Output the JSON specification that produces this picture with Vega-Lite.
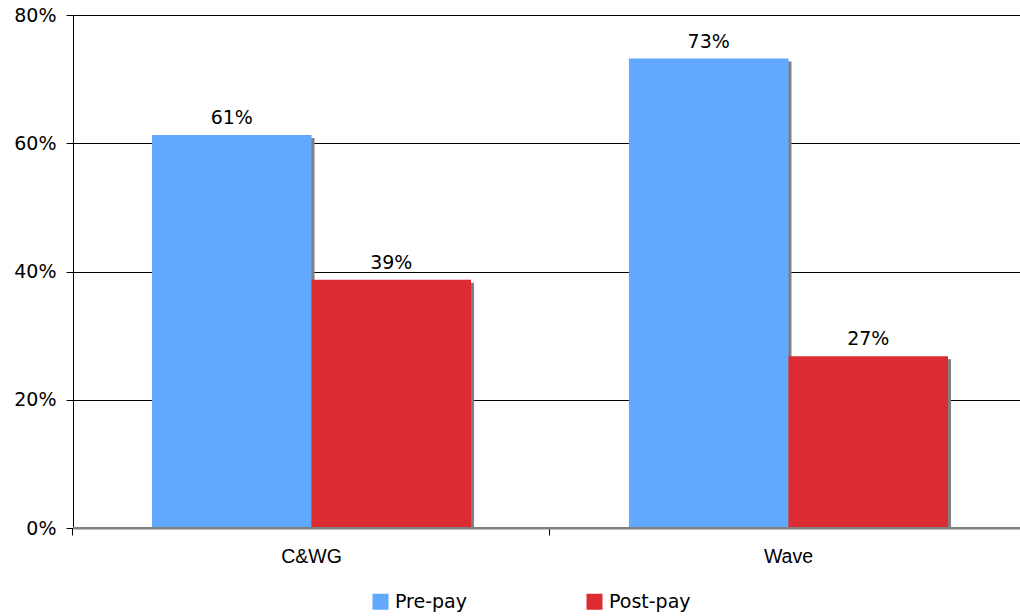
{
  "$schema": "https://vega.github.io/schema/vega-lite/v6.json",
  "width": 954,
  "height": 513,
  "autosize": {"type": "none"},
  "padding": {"left": 73, "top": 15, "right": 0, "bottom": 88},
  "background": "white",
  "config": {
    "view": {"stroke": null},
    "font": "DejaVu Sans",
    "axis": {"labelFont": "DejaVu Sans", "labelFontSize": 19, "labelColor": "#000000"},
    "legend": {"labelFont": "DejaVu Sans", "labelFontSize": 19, "labelColor": "#000000"}
  },
  "data": {
    "values": [
      {"group": "C&WG", "series": "Pre-pay", "value": 0.613},
      {"group": "C&WG", "series": "Post-pay", "value": 0.387},
      {"group": "Wave", "series": "Pre-pay", "value": 0.732},
      {"group": "Wave", "series": "Post-pay", "value": 0.268}
    ]
  },
  "encoding": {
    "y": {
      "field": "value",
      "type": "quantitative",
      "scale": {"domain": [0, 0.8], "nice": false},
      "axis": {
        "title": null,
        "format": ".0%",
        "values": [0, 0.2, 0.4, 0.6, 0.8],
        "grid": true,
        "gridColor": "#000000",
        "gridOpacity": 1,
        "gridWidth": 1,
        "domainColor": "#000000",
        "domainWidth": 1,
        "tickColor": "#000000",
        "tickSize": 7,
        "labelPadding": 10
      }
    }
  },
  "layer": [
    {
      "mark": {"type": "bar", "color": "#808080", "yOffset": 3, "y2Offset": 0},
      "encoding": {
        "y2": {"datum": 0},
        "x": {
          "field": "group",
          "type": "nominal",
          "sort": ["C&WG", "Wave"],
          "scale": {"paddingInner": 0.331, "paddingOuter": 0.1656},
          "axis": {
            "orient": "bottom",
            "title": null,
            "labels": false,
            "domain": false,
            "grid": false,
            "ticks": true,
            "tickSize": 7,
            "tickColor": "#000000",
            "tickWidth": 1,
            "bandPosition": -0.248
          }
        },
        "xOffset": {
          "field": "series",
          "type": "nominal",
          "sort": ["Pre-pay", "Post-pay"],
          "scale": {"paddingInner": 0, "paddingOuter": 0, "range": [3, 322.1]}
        }
      }
    },
    {
      "layer": [
        {
          "mark": {"type": "bar"},
          "encoding": {
            "color": {
              "field": "series",
              "type": "nominal",
              "sort": ["Pre-pay", "Post-pay"],
              "scale": {"domain": ["Pre-pay", "Post-pay"], "range": ["#61A8FF", "#DC2B32"]},
              "legend": {
                "title": null,
                "orient": "none",
                "direction": "horizontal",
                "legendX": 298,
                "legendY": 577,
                "symbolType": "square",
                "symbolSize": 256,
                "symbolStrokeWidth": 0,
                "symbolOpacity": 1,
                "labelOffset": 5,
                "columnPadding": 117
              }
            }
          }
        },
        {
          "mark": {"type": "text", "baseline": "bottom", "dy": -7, "fontSize": 19, "color": "#000000", "font": "DejaVu Sans"},
          "encoding": {
            "text": {"field": "value", "type": "quantitative", "format": ".0%"}
          }
        }
      ],
      "encoding": {
        "x": {
          "field": "group",
          "type": "nominal",
          "sort": ["C&WG", "Wave"],
          "scale": {"paddingInner": 0.331, "paddingOuter": 0.1656},
          "axis": {
            "orient": "bottom",
            "title": null,
            "labelAngle": 0,
            "ticks": false,
            "labelPadding": 19,
            "labelFont": "Liberation Sans",
            "labelFontSize": 19.5,
            "domainColor": "#808080",
            "domainWidth": 2,
            "grid": false
          }
        },
        "xOffset": {
          "field": "series",
          "type": "nominal",
          "sort": ["Pre-pay", "Post-pay"],
          "scale": {"paddingInner": 0, "paddingOuter": 0}
        }
      },
      "resolve": {"scale": {"xOffset": "shared"}}
    },
    {
      "mark": {"type": "rule", "color": "#808080", "strokeWidth": 2},
      "encoding": {"y": {"datum": 0, "type": "quantitative"}}
    }
  ],
  "resolve": {"scale": {"xOffset": "independent"}, "axis": {"x": "independent"}}
}
